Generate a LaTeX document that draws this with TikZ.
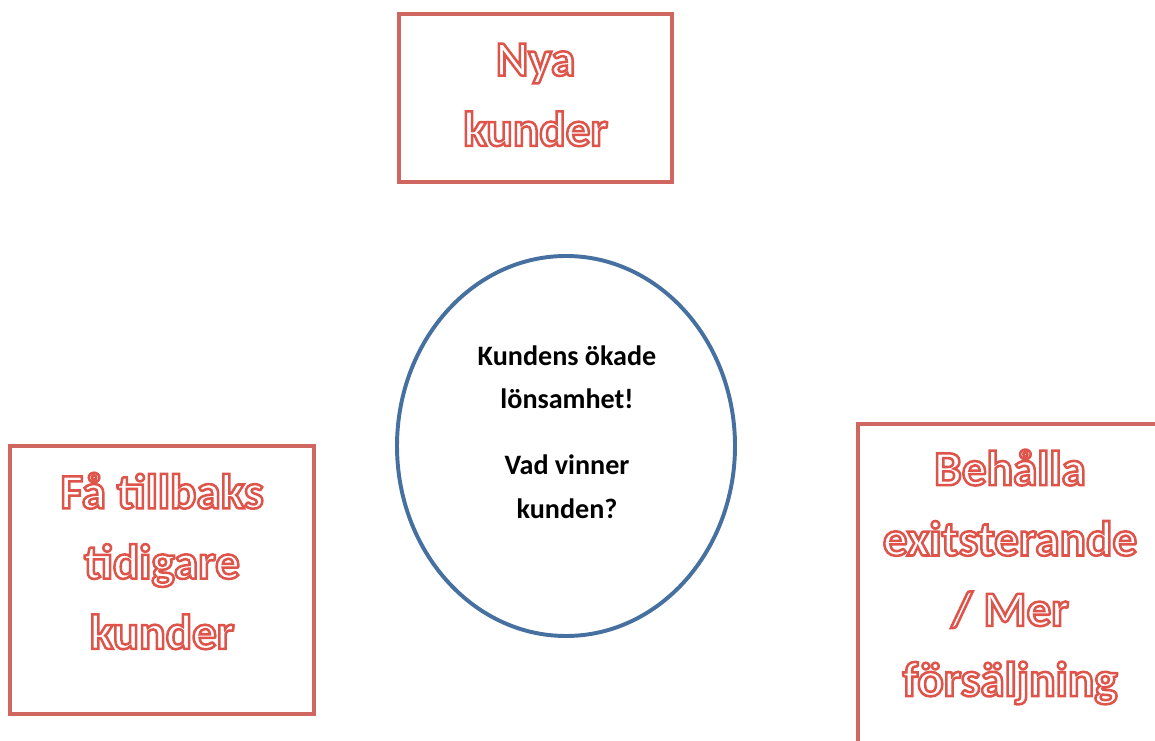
\documentclass[tikz,border=0pt]{standalone}
\usepackage{fontspec}
\setmainfont{Carlito}
\usepackage{xcolor}
\usetikzlibrary{shapes.geometric}
\definecolor{boxred}{RGB}{207,102,96}
\definecolor{ringblue}{RGB}{70,112,160}
% white letters with a red outline (text render mode 2)
\newcommand{\hollow}[1]{\textcolor{white}{\special{pdf:literal direct 2 Tr 1.8 w 0.87 0.33 0.29 RG}#1\special{pdf:literal direct 0 Tr}}}

\begin{document}
\begin{tikzpicture}
    \useasboundingbox (0,0) rectangle (28.875,18.5);
    \clip (0,0) rectangle (28.875,18.5);
    \tikzset{
        goalbox/.style={draw=boxred, line width=2.8pt, inner sep=0pt},
        goaltext/.style={align=center, font=\bfseries\fontsize{35}{50}\selectfont},
        ring/.style={draw=ringblue, line width=2.8pt, ellipse, inner sep=0pt},
        ringtext/.style={align=center, font=\bfseries\fontsize{20}{31}\selectfont}
    }
    % Draw the boxes
    \node[goalbox, minimum width=6.83cm, minimum height=4.2cm] (nya) at (13.39,16.05) {}; % top box
    \node[goalbox, minimum width=7.6cm, minimum height=6.7cm] (tillbaks) at (4.05,4.0) {}; % left box
    \node[goalbox, minimum width=7.6cm, minimum height=8.6cm] (behalla) at (25.25,3.6) {}; % right box
    % Draw the circle in the middle
    \node[ring, minimum width=8.45cm, minimum height=9.5cm] (lonsamhet) at (14.15,7.35) {};
    % Texts
    \node[goaltext] (nyatext) at (13.39,16.125) {\hollow{Nya}\\\hollow{kunder}};
    \node[goaltext] (tillbakstext) at (4.05,4.475) {\hollow{Få tillbaks}\\\hollow{tidigare}\\\hollow{kunder}};
    \node[goaltext] (behallatext) at (25.25,4.075) {\hollow{Behålla}\\\hollow{exitsterande}\\\hollow{/ Mer}\\\hollow{försäljning}};
    \node[ringtext] (lonsamhettext) at (14.175,7.7) {Kundens ökade\\lönsamhet!\\[0.55cm]Vad vinner\\kunden?};
\end{tikzpicture}
\end{document}
